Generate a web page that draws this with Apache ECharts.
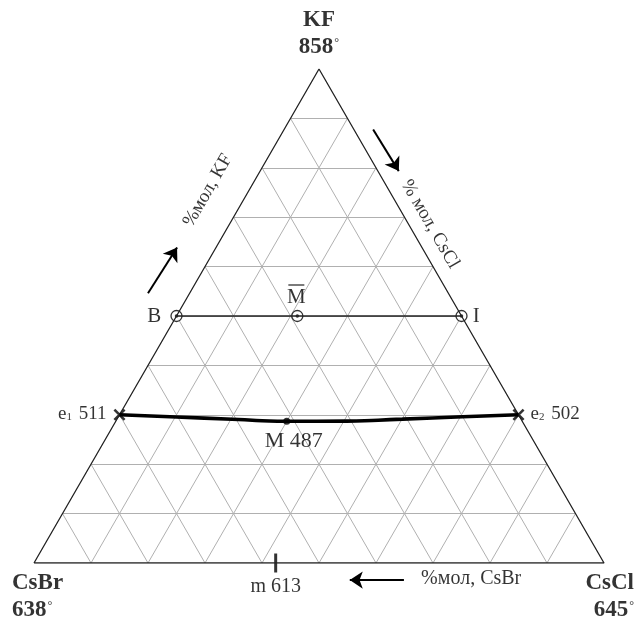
<!DOCTYPE html>
<html>
<head>
<meta charset="utf-8">
<script src="https://cdn.jsdelivr.net/npm/echarts@6/dist/echarts.min.js"></script>
<style>
  html, body { margin: 0; padding: 0; background: #fff; }
  #chart { width: 637px; height: 619px; }
</style>
</head>
<body>
<div id="chart"></div>
<script>
// Ternary system KF – CsBr – CsCl (compositions in mole fractions)
const vertexNames = ['KF', 'CsBr', 'CsCl'];          // top, left, right
const vertexTemps = [858, 638, 645];

const gridTicks = [0.1, 0.2, 0.3, 0.4, 0.5, 0.6, 0.7, 0.8, 0.9];

// binary eutectics on the KF–CsBr and KF–CsCl sides
const eutecticIdx = ['1', '2'];
const eutecticTemps = [511, 502];
const eutecticKF = [0.300, 0.300];
const eutecticCsCl = [0.000, 0.700];

// monovariant curve e1 – M – e2
const curveKF = [0.300, 0.2955, 0.2910, 0.2868, 0.2872, 0.2912, 0.2960, 0.300];
const curveCsCl = [0.000, 0.102, 0.202, 0.300, 0.405, 0.501, 0.604, 0.700];

// ternary minimum point M
const minLabel = 'M';
const minTemp = 487;
const minKF = 0.2868;
const minCsCl = 0.300;

// stable secant B – M̄ – I
const secantNames = ['B', 'M', 'I'];
const secantKF = [0.5, 0.5, 0.5];
const secantCsCl = [0.0, 0.212, 0.5];

// minimum of the CsBr–CsCl solid solution
const solLabel = 'm';
const solTemp = 613;
const solKF = 0.0;
const solCsCl = 0.424;

// side titles
const sideTitles = ['%мол, KF', '% мол, CsCl', '%мол, CsBr'];

const H = Math.sqrt(3) / 2;
// (KF, CsCl) -> plane coordinates; CsBr is the remainder
function toXY(kf, cscl) { return [cscl + kf / 2, kf * H]; }

const FONT = 'Liberation Serif';
const INK = '#000';

// grid of the triangle
const gridLines = [];
gridTicks.forEach(t => {
  gridLines.push({ coords: [toXY(t, 0), toXY(t, 1 - t)] });      // KF = const
  gridLines.push({ coords: [toXY(0, t), toXY(1 - t, t)] });      // CsCl = const
  gridLines.push({ coords: [toXY(0, 1 - t), toXY(1 - t, 0)] });  // CsBr = const
});

const pTop = toXY(1, 0), pLeft = toXY(0, 0), pRight = toXY(0, 1);

const richDeg = {
  b: { fontFamily: FONT, fontWeight: 'bold', fontSize: 23, color: INK, lineHeight: 27 },
  d: { fontFamily: FONT, fontSize: 12, color: INK, verticalAlign: 'top', lineHeight: 12, padding: [3, 0, 0, 1] }
};
function vertexText(i) {
  return '{b|' + vertexNames[i] + '}\n{b|' + vertexTemps[i] + '}{d|°}';
}

const richSub = {
  n: { fontFamily: FONT, fontSize: 19, color: INK },
  s: { fontFamily: FONT, fontSize: 11, color: INK, verticalAlign: 'bottom', padding: [0, 2, 1, 0] }
};

const crossPath = 'path://M0,1.5 L1.5,0 L10,8.5 L8.5,10 Z M8.5,0 L10,1.5 L1.5,10 L0,8.5 Z';

const option = {
  animation: false,
  grid: { left: 34, right: 33, top: 69, bottom: 56 },
  xAxis: { type: 'value', min: 0, max: 1, show: false },
  yAxis: { type: 'value', min: 0, max: H, show: false },
  series: [
    {
      type: 'lines', coordinateSystem: 'cartesian2d', silent: true,
      lineStyle: { color: '#b0b0b0', width: 1, opacity: 1 },
      data: gridLines
    },
    {
      type: 'line', symbol: 'none', silent: true,
      lineStyle: { color: '#222', width: 1.3 },
      data: [pLeft, pRight, pTop, pLeft]
    },
    // secant line
    {
      type: 'line', symbol: 'none', silent: true,
      lineStyle: { color: '#222', width: 1.6 },
      data: [toXY(secantKF[0], secantCsCl[0]), toXY(secantKF[2], secantCsCl[2])]
    },
    // monovariant curve
    {
      type: 'line', symbol: 'none', smooth: 0.6, silent: true,
      lineStyle: { color: '#000', width: 3.6 },
      data: curveKF.map((k, i) => toXY(k, curveCsCl[i]))
    },
    // circled points of the secant
    {
      type: 'scatter', symbol: 'circle', symbolSize: 11, clip: false,
      itemStyle: { color: '#fff', borderColor: '#000', borderWidth: 1.3 },
      label: { show: true, fontFamily: FONT, fontSize: 21, color: INK },
      data: secantNames.map((n, i) => ({
        value: toXY(secantKF[i], secantCsCl[i]),
        label: i === 0 ? { formatter: n, position: 'left', distance: 9 }
             : i === 1 ? { formatter: n, position: 'top', distance: 2, offset: [-1, 0] }
             : { formatter: n, position: 'right', distance: 5 }
      }))
    },
    {
      type: 'scatter', symbol: 'circle', symbolSize: 3.5, clip: false,
      itemStyle: { color: '#000' },
      data: secantNames.map((n, i) => toXY(secantKF[i], secantCsCl[i]))
    },
    // bar over the label of the middle secant point
    {
      type: 'scatter', symbol: 'rect', symbolSize: [16, 1.3], symbolOffset: [-1, -31], clip: false,
      itemStyle: { color: '#000' }, silent: true,
      data: [toXY(secantKF[1], secantCsCl[1])]
    },
    // eutectic points
    {
      type: 'scatter', symbol: crossPath, symbolSize: 12, clip: false,
      itemStyle: { color: '#000' },
      label: { show: true, rich: richSub },
      data: eutecticIdx.map((n, i) => ({
        value: toXY(eutecticKF[i], eutecticCsCl[i]),
        label: {
          formatter: '{n|e}{s|' + n + '}{n| ' + eutecticTemps[i] + '}',
          position: i === 0 ? 'left' : 'right',
          distance: i === 0 ? 7 : 6,
          offset: [0, -1]
        }
      }))
    },
    // ternary minimum
    {
      type: 'scatter', symbol: 'circle', symbolSize: 7, clip: false,
      itemStyle: { color: '#000' },
      label: {
        show: true, position: 'bottom', distance: 5, offset: [7, 0],
        fontFamily: FONT, fontSize: 22, color: INK,
        formatter: minLabel + ' ' + minTemp
      },
      data: [toXY(minKF, minCsCl)]
    },
    // solid-solution minimum on the base
    {
      type: 'scatter', symbol: 'rect', symbolSize: [3, 19], clip: false,
      itemStyle: { color: '#000' },
      label: {
        show: true, position: 'bottom', distance: 4,
        fontFamily: FONT, fontSize: 20, color: INK,
        formatter: solLabel + ' ' + solTemp
      },
      data: [toXY(solKF, solCsCl)]
    },
    // vertex names and melting points
    {
      type: 'scatter', symbolSize: 0, clip: false, silent: true,
      label: { show: true, rich: richDeg },
      data: [
        { value: pTop, label: { formatter: vertexText(0), position: 'top', distance: 8, align: 'center' } },
        { value: pLeft, label: { formatter: vertexText(1), position: [-22, 7], align: 'left', verticalAlign: 'top' } },
        { value: pRight, label: { formatter: vertexText(2), position: [30, 7], align: 'right', verticalAlign: 'top' } }
      ]
    },
    // side titles
    {
      type: 'scatter', symbolSize: 0, clip: false, silent: true,
      label: { show: true, position: 'inside', fontFamily: FONT, fontSize: 19, color: INK },
      data: [
        { value: [0.305, 0.653], label: { formatter: sideTitles[0], rotate: 60 } },
        { value: [0.695, 0.594], label: { formatter: sideTitles[1], rotate: -60 } },
        { value: [0.767, -0.028], label: { formatter: sideTitles[2], fontSize: 20 } }
      ]
    },
    // direction arrows
    {
      type: 'lines', coordinateSystem: 'cartesian2d', silent: true, clip: false,
      symbol: ['none', 'arrow'], symbolSize: [9, 13],
      lineStyle: { color: '#000', width: 2, opacity: 1 },
      data: [
        { coords: [[0.200, 0.473], [0.251, 0.553]] },
        { coords: [[0.595, 0.760], [0.640, 0.687]] },
        { coords: [[0.649, -0.030], [0.554, -0.030]] }
      ]
    }
  ]
};

const chart = echarts.init(document.getElementById('chart'), null, { renderer: 'canvas' });
chart.setOption(option);
</script>
</body>
</html>
